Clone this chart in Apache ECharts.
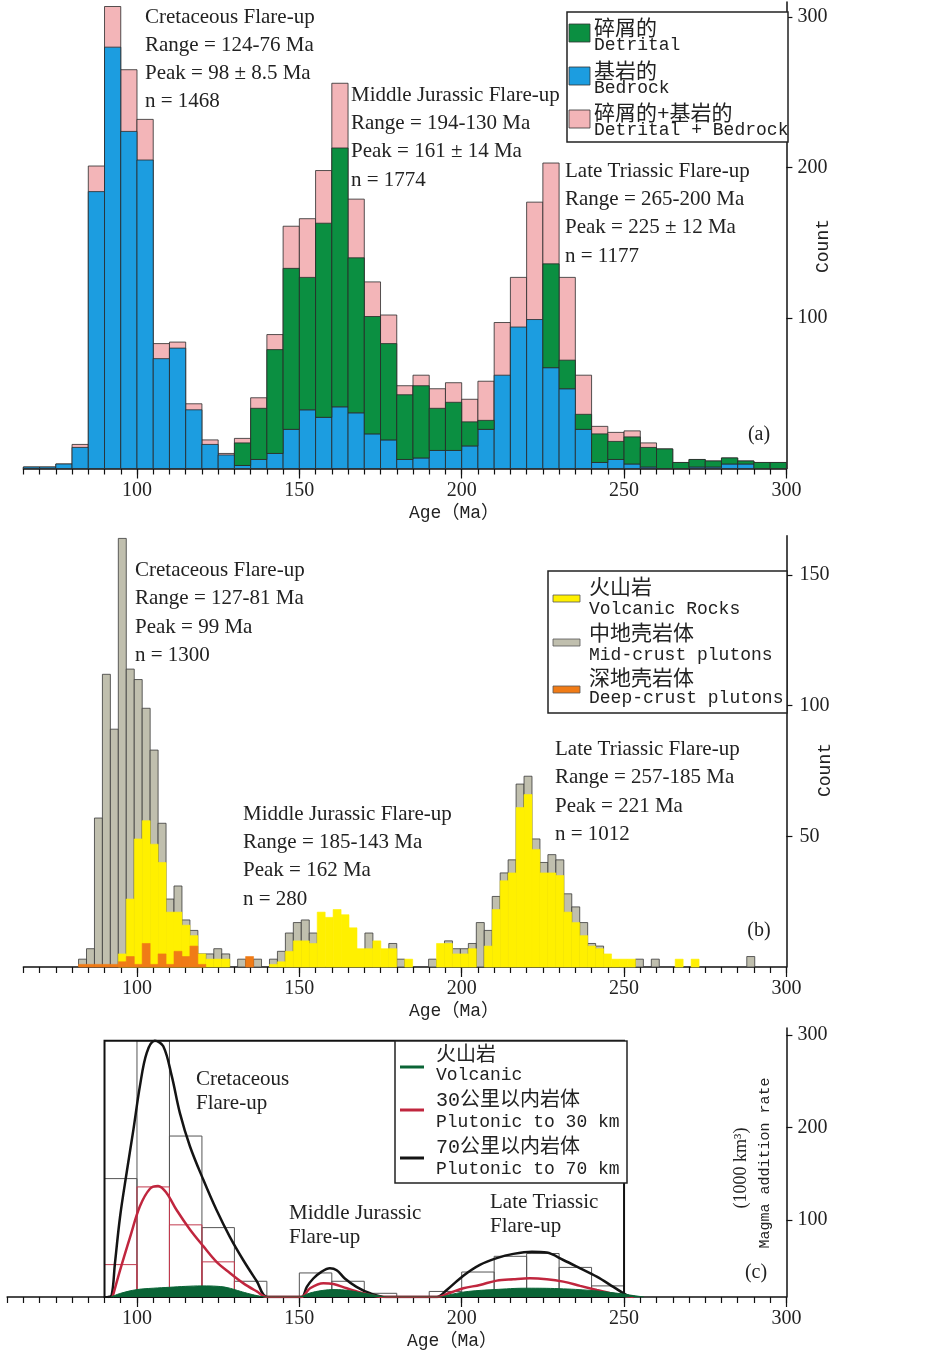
<!DOCTYPE html>
<html><head><meta charset="utf-8">
<script src="https://cdn.jsdelivr.net/npm/echarts@6/dist/echarts.min.js"></script>
<style>html,body{margin:0;padding:0;background:#fff}#c{width:927px;height:1352px}</style>
</head><body><div id="c"></div><script>
// ================= DATA =================
// Panel (a): 5-Ma bins, left edges (Ma)
const binsA = [65,70,75,80,85,90,95,100,105,110,115,120,125,130,135,140,145,150,155,160,165,170,175,180,185,190,195,200,205,210,215,220,225,230,235,240,245,250,255,260,265,270,275,280,285,290,295];
const binWidthA = 5;
const bedrockA  = [1,1,3,14,184,280,224,205,73,80,39,16,9,2,6,10,26,39,34,41,37,23,19,6,7,12,12,15,26,62,94,99,67,53,26,4,6,3,1,0,0,1,1,3,3,0,0];
const detritalA = [0,0,0,0,0,0,0,0,0,0,0,0,0,15,34,69,107,88,129,172,103,78,64,43,48,28,32,16,6,0,0,0,69,19,10,19,12,18,13,13,4,5,4,4,2,4,4];
const totalA    = [1,1,3,16,201,307,265,232,83,84,43,19,10,20,47,89,161,166,198,256,179,124,102,55,62,53,57,46,58,97,127,177,203,127,62,28,24,25,17,13,4,6,5,7,5,4,4];

// Panel (b): narrow bins starting at binStartB (Ma), width binWidthB (Ma)
const binStartB = 82, binWidthB = 2.45;
const midCrustB = [3,7,57,112,91,164,114,110,99,83,55,26,31,18,14,5,5,7,5,0,3,3,3,0,3,6,13,17,18,13,0,0,0,0,0,0,13,0,0,9,3,0,0,0,3,0,10,7,7,9,17,14,27,36,41,70,73,49,40,43,41,28,23,17,9,8,0,0,0,0,3,0,3,0,0,0,0,0,0,0,0,0,0,0,4];
const volcanicB = [0,0,0,0,0,5,26,49,56,47,40,21,21,16,12,5,3,3,3,0,0,0,0,0,1,2,6,10,10,9,21,19,22,20,15,7,7,10,7,7,0,3,0,0,0,9,9,5,5,7,0,8,22,33,36,61,66,45,36,36,35,21,17,12,8,7,5,3,3,3,0,0,0,0,0,3,0,3,0,0,0,0,0,0,0];
const deepCrustB = [1,1,1,1,1,2,4,1,9,1,5,1,6,4,8,1,0,0,0,0,0,4,0,0,0,0,0,0,0,0,0,0,0,0,0,0,0,0,0,0,0,0,0,0,0,0,0,0,0,0,0,0,0,0,0,0,0,0,0,0,0,0,0,0,0,0,0,0,0,0,0,0,0,0,0,0,0,0,0,0,0,0,0,0,0];

// Panel (c): 10-Ma histograms and magma addition curves (1000 km3)
const binWidthC = 10;
const plut70Bins = [90,100,110,120,130,150,160,170,190,200,210,220,230,240];
const plut70Hist = [128,277,174,75,17,26,17,4,6,27,44,47,32,12];
const plut30Bins = [90,100,110,120];
const plut30Hist = [35,119,78,38];
const frameC = [90, 250, 277];
const curve70 = [[91,0],[92.2,2],[93.2,36],[94.8,87],[96.8,134],[98.9,181],[100.9,228],[103,264],[105.5,277],[108.1,271],[110.7,239],[113.2,199],[116.3,163],[120.4,127],[124.5,94],[128.6,65],[132.7,40],[136.9,17],[140.1,0],[150.6,0],[152.3,11],[154.3,20],[156.9,27.5],[159.4,31],[161.5,29],[164,20],[167.6,11],[171.8,4],[176.9,0],[192.3,0],[195.4,7.6],[200.5,23],[205.6,34.7],[210.8,42],[215.9,46.6],[221.6,49],[226.2,48],[231.3,40],[236.5,31],[241.6,22],[246.7,11],[250.8,2],[252.9,0]];
const curve30 = [[92.5,0],[94.8,29],[97.9,65],[100.9,98],[104,117],[106.5,120],[109.1,112.5],[112.2,94],[116.3,73],[120.4,55],[124.5,38],[128.6,26],[132.7,15],[136.9,6],[140,0],[150.5,0],[153.3,9.4],[157.4,14.9],[160.5,14],[164.6,9.4],[169.7,4],[175.9,0],[192.5,0],[196,4],[200.5,9.4],[205.6,13],[210.8,17.7],[215.9,19.2],[221,20.2],[226.2,19.2],[231.3,16.6],[236.5,12],[241.6,7.6],[246.7,3.3],[250.8,1],[253,0]];
const curveVolc = [[92,0],[95,4],[100,8],[105,9.5],[110,10.5],[115,11.5],[120,12],[125,11.5],[128,10],[131,7],[134,4],[137,1.5],[140,0],[150,0],[153,4],[157,7],[161,8],[165,7],[170,4],[174,1.5],[177,0],[193,0],[197,3],[202,6],[210,8],[220,9.5],[230,9],[240,7],[248,4],[253,1.5],[256,0]];

// Tick labels
const xMajorTicks = [100,150,200,250,300];
const yTicksA = [100,200,300];
const yTicksB = [50,100,150];
const yTicksC = [100,200,300];

// ================= STYLE / LAYOUT =================
const SERIF = '"Liberation Serif", "Times New Roman", serif';
const MONO = '"Liberation Mono", "Noto Sans CJK SC", monospace';
const INK = '#222';

function xAxes(grid, min) {
  return [
    { gridIndex: grid, type: 'value', min: min, max: 300, interval: 5, position: 'bottom',
      axisLine: { show: true, onZero: false, lineStyle: { color: '#111', width: 1.5 } },
      axisTick: { show: true, length: 6, lineStyle: { color: '#111', width: 1.2 } },
      axisLabel: { show: false }, splitLine: { show: false } },
    { gridIndex: grid, type: 'value', min: min, max: 300, position: 'bottom',
      axisLine: { show: false, onZero: false },
      axisTick: { show: true, length: 10, customValues: xMajorTicks, lineStyle: { color: '#111', width: 1.2 } },
      axisLabel: { show: true, customValues: xMajorTicks, margin: 12, fontSize: 20, fontFamily: SERIF, color: INK },
      splitLine: { show: false } }
  ];
}
function yAxisR(grid, min, max, ticks, margin) {
  return { gridIndex: grid, type: 'value', position: 'right', min: min, max: max,
    axisLine: { show: true, onZero: false, lineStyle: { color: '#111', width: 1.5 } },
    axisTick: { show: true, length: 6, customValues: ticks, lineStyle: { color: '#111', width: 1.2 } },
    axisLabel: { show: true, customValues: ticks, margin: margin, fontSize: 20, fontFamily: SERIF, color: INK },
    splitLine: { show: false } };
}

function hist(xi, yi, edges, width, lows, highs, style, z) {
  const data = [];
  edges.forEach((e, i) => { if (highs[i] > lows[i]) data.push([e, lows[i], highs[i]]); });
  return { type: 'custom', xAxisIndex: xi, yAxisIndex: yi, z: z, silent: true, data: data,
    encode: { x: 0, y: [1, 2] },
    renderItem: function (params, api) {
      const x0 = api.value(0), lo = api.value(1), hi = api.value(2);
      const p0 = api.coord([x0, hi]), p1 = api.coord([x0 + width, lo]);
      return { type: 'rect', shape: { x: p0[0], y: p0[1], width: p1[0] - p0[0], height: p1[1] - p0[1] }, style: style };
    } };
}

const edgesB = midCrustB.map((_, i) => binStartB + i * binWidthB);
const zerosA = binsA.map(() => 0), zerosB = edgesB.map(() => 0);
const stackTopA = bedrockA.map((b, i) => b + detritalA[i]);
const zeros70 = plut70Bins.map(() => 0), zeros30 = plut30Bins.map(() => 0);

const barStroke = { stroke: '#2a2a2a', lineWidth: 0.8 };
const series = [
  hist(0, 0, binsA, binWidthA, zerosA, totalA, Object.assign({ fill: '#f3b5b8' }, barStroke), 2),
  hist(0, 0, binsA, binWidthA, zerosA, bedrockA, Object.assign({ fill: '#1c9de0' }, barStroke), 3),
  hist(0, 0, binsA, binWidthA, bedrockA, stackTopA, Object.assign({ fill: '#0b8f41' }, barStroke), 4),

  hist(2, 1, edgesB, binWidthB, zerosB, midCrustB, { fill: '#c0bfae', stroke: '#3a3a3a', lineWidth: 0.8 }, 2),
  hist(2, 1, edgesB, binWidthB, zerosB, volcanicB, { fill: '#fff000', stroke: '#fff000', lineWidth: 0.6 }, 3),
  hist(2, 1, edgesB, binWidthB, zerosB, deepCrustB, { fill: '#f07b16', stroke: '#f07b16', lineWidth: 0.6 }, 4),

  hist(4, 2, plut70Bins, binWidthC, zeros70, plut70Hist, { fill: 'none', stroke: '#555', lineWidth: 1 }, 2),
  hist(4, 2, plut30Bins, binWidthC, zeros30, plut30Hist, { fill: 'none', stroke: '#c23a4e', lineWidth: 1 }, 3),
  { type: 'custom', xAxisIndex: 4, yAxisIndex: 2, z: 4, silent: true, data: [frameC],
    renderItem: function (params, api) {
      const p0 = api.coord([api.value(0), api.value(2)]), p1 = api.coord([api.value(1), 0]);
      return { type: 'rect', shape: { x: p0[0], y: p0[1], width: p1[0] - p0[0], height: p1[1] - p0[1] },
        style: { fill: 'none', stroke: '#111', lineWidth: 2 } };
    } },
  { type: 'line', xAxisIndex: 4, yAxisIndex: 2, z: 5, data: curve70, showSymbol: false, smooth: 0.35,
    lineStyle: { color: '#141414', width: 2.5 }, silent: true },
  { type: 'line', xAxisIndex: 4, yAxisIndex: 2, z: 6, data: curve30, showSymbol: false, smooth: 0.35,
    lineStyle: { color: '#c0263e', width: 2.5 }, silent: true },
  { type: 'line', xAxisIndex: 4, yAxisIndex: 2, z: 7, data: curveVolc, showSymbol: false, smooth: 0.4,
    lineStyle: { color: '#0a6436', width: 1 }, areaStyle: { color: '#0a6436', opacity: 1 }, silent: true }
];

// ================= TEXT / LEGENDS =================
const G = [];
function T(text, x, y, size, family, extra) {
  const st = Object.assign({ text: text, font: size + 'px ' + family, fill: INK,
    textAlign: 'left', align: 'left', textVerticalAlign: 'middle', verticalAlign: 'middle' }, extra || {});
  G.push({ type: 'text', x: x, y: y, z: 100, silent: true, style: st });
}
function TR(text, x, y, size, family) {
  G.push({ type: 'text', x: x, y: y, rotation: Math.PI / 2, z: 100, silent: true,
    style: { text: text, font: size + 'px ' + family, fill: INK, textAlign: 'center', align: 'center',
      textVerticalAlign: 'middle', verticalAlign: 'middle' } });
}
function R(x, y, w, h, fill, stroke, lw) {
  G.push({ type: 'rect', z: 90, silent: true, shape: { x: x, y: y, width: w, height: h },
    style: { fill: fill, stroke: stroke, lineWidth: lw } });
}
function block(lines, x, ys, size) { lines.forEach((l, i) => T(l, x, ys[i], size, SERIF)); }

// panel (a)
block(['Cretaceous Flare-up', 'Range = 124-76 Ma', 'Peak = 98 ± 8.5 Ma', 'n = 1468'], 145, [17, 45, 73, 101], 21);
block(['Middle Jurassic Flare-up', 'Range = 194-130 Ma', 'Peak = 161 ± 14 Ma', 'n = 1774'], 351, [95, 123, 151, 180], 21);
block(['Late Triassic Flare-up', 'Range = 265-200 Ma', 'Peak = 225 ± 12 Ma', 'n = 1177'], 565, [171, 199, 227, 256], 21);
T('(a)', 759, 435, 20, SERIF, { textAlign: 'center', align: 'center' });
T('Age（Ma）', 409, 513, 18, MONO);
TR('Count', 823, 246, 18, MONO);
R(567, 12, 221, 130, '#fff', '#222', 1.5);
R(569, 24, 21, 18, '#0b8f41', '#333', 0.8);
R(569, 67, 21, 18, '#1c9de0', '#333', 0.8);
R(569, 110, 21, 18, '#f3b5b8', '#333', 0.8);
T('碎屑的', 594, 29, 21, MONO); T('Detrital', 594, 45, 18, MONO);
T('基岩的', 594, 72, 21, MONO); T('Bedrock', 594, 88, 18, MONO);
T('碎屑的+基岩的', 594, 114, 21, MONO); T('Detrital + Bedrock', 594, 130, 18, MONO);

// panel (b)
block(['Cretaceous Flare-up', 'Range = 127-81 Ma', 'Peak = 99 Ma', 'n = 1300'], 135, [570, 598, 627, 655], 21);
block(['Middle Jurassic Flare-up', 'Range = 185-143 Ma', 'Peak = 162 Ma', 'n = 280'], 243, [814, 842, 870, 899], 21);
block(['Late Triassic Flare-up', 'Range = 257-185 Ma', 'Peak = 221 Ma', 'n = 1012'], 555, [749, 777, 806, 834], 21);
T('(b)', 759, 931, 20, SERIF, { textAlign: 'center', align: 'center' });
T('Age（Ma）', 409, 1011, 18, MONO);
TR('Count', 825, 770, 18, MONO);
R(548, 571, 239, 142, '#fff', '#222', 1.5);
R(553, 595, 27, 7, '#fff000', '#555', 0.8);
R(553, 639, 27, 7, '#c0bfae', '#555', 0.8);
R(553, 686, 27, 7, '#f07b16', '#555', 0.8);
T('火山岩', 589, 588, 21, MONO); T('Volcanic Rocks', 589, 609, 18, MONO);
T('中地壳岩体', 589, 634, 21, MONO); T('Mid-crust plutons', 589, 655, 18, MONO);
T('深地壳岩体', 589, 679, 21, MONO); T('Deep-crust plutons', 589, 698, 18, MONO);

// panel (c)
block(['Cretaceous', 'Flare-up'], 196, [1079, 1103], 21);
block(['Middle Jurassic', 'Flare-up'], 289, [1213, 1237], 21);
block(['Late Triassic', 'Flare-up'], 490, [1202, 1226], 21);
T('(c)', 756, 1273, 20, SERIF, { textAlign: 'center', align: 'center' });
T('Age（Ma）', 407, 1341, 18, MONO);
TR('Magma addition rate', 765, 1163, 15, MONO);
TR('(1000 km³)', 741, 1168, 18, SERIF);
R(395, 1041, 232, 142, '#fff', '#222', 1.5);
G.push({ type: 'line', z: 95, silent: true, shape: { x1: 400, y1: 1067, x2: 424, y2: 1067 }, style: { stroke: '#0a6436', lineWidth: 3 } });
G.push({ type: 'line', z: 95, silent: true, shape: { x1: 400, y1: 1110, x2: 424, y2: 1110 }, style: { stroke: '#c0263e', lineWidth: 3 } });
G.push({ type: 'line', z: 95, silent: true, shape: { x1: 400, y1: 1158, x2: 424, y2: 1158 }, style: { stroke: '#141414', lineWidth: 3 } });
T('火山岩', 436, 1056, 20, MONO); T('Volcanic', 436, 1075, 18, MONO);
T('30公里以内岩体', 436, 1101, 20, MONO); T('Plutonic to 30 km', 436, 1122, 18, MONO);
T('70公里以内岩体', 436, 1148, 20, MONO); T('Plutonic to 70 km', 436, 1169, 18, MONO);

// ================= CHART =================
const chart = echarts.init(document.getElementById('c'), null, { renderer: 'canvas' });
chart.setOption({
  animation: false,
  backgroundColor: '#fff',
  grid: [
    { left: 23.35, top: 2, width: 763.05, height: 466.5 },
    { left: 23.35, top: 535.8, width: 763.05, height: 431.2 },
    { left: 7.1, top: 1028, width: 779.3, height: 269 }
  ],
  xAxis: [].concat(xAxes(0, 65), xAxes(1, 65), xAxes(2, 60)),
  yAxis: [
    yAxisR(0, 0, 310, yTicksA, 11),
    yAxisR(1, 0, 165, yTicksB, 13),
    { gridIndex: 2, type: 'value', position: 'right', min: 0, max: 290.8, show: false },
    yAxisR(2, 16.8, 307.6, yTicksC, 11)
  ],
  series: series,
  graphic: G
});
</script></body></html>
